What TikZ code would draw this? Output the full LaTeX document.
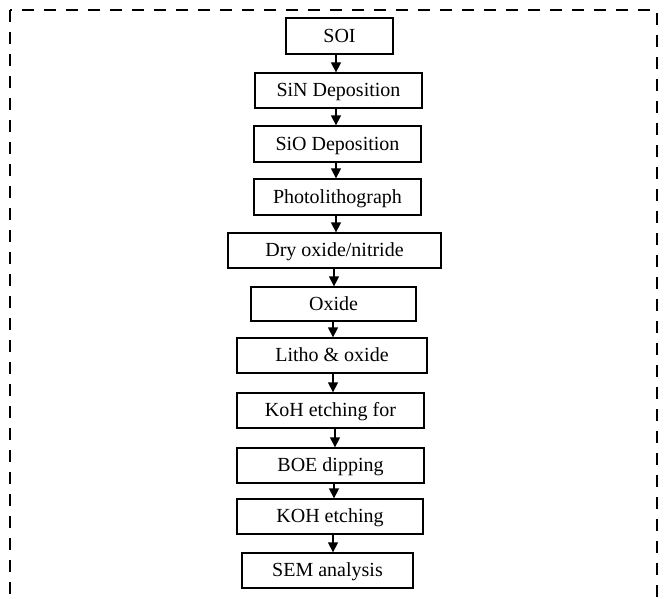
\documentclass[tikz,border=0pt]{standalone}
\usepackage{fontspec}
\setmainfont{Liberation Serif}
\usetikzlibrary{arrows.meta}
\begin{document}
\begin{tikzpicture}[x=1pt,y=-1pt,
  stepbox/.style={draw,line width=1.3pt,inner sep=0pt,
    font=\fontsize{20}{22}\selectfont,text height=12.9pt,text depth=0pt},
  arr/.style={line width=1.3pt,-{Triangle[width=10pt,length=10pt]}},
  frame/.style={line width=2pt,dash pattern=on 12pt off 10pt}]
\useasboundingbox (0,0) rectangle (667,599);
\clip (0,0) rectangle (667,599);
\draw[frame] (10,10) rectangle (657,640);

\node[stepbox,minimum width=107pt,minimum height=36pt] (soi)   at (339.5,36)  {SOI};
\node[stepbox,minimum width=167pt,minimum height=35pt] (sin)   at (338.5,90.5) {SiN Deposition};
\node[stepbox,minimum width=167pt,minimum height=36pt] (sio)   at (337.5,144) {SiO Deposition};
\node[stepbox,minimum width=167pt,minimum height=36pt] (photo) at (337.5,197) {Photolithograph};
\node[stepbox,minimum width=213pt,minimum height=35pt] (dry)   at (334.5,250.5) {Dry oxide/nitride};
\node[stepbox,minimum width=165pt,minimum height=34pt] (oxide) at (333.5,304) {Oxide};
\node[stepbox,minimum width=190pt,minimum height=35pt] (litho) at (332,355.5) {Litho \& oxide};
\node[stepbox,minimum width=187pt,minimum height=35pt] (koh)   at (330.5,410.5) {KoH etching for};
\node[stepbox,minimum width=187pt,minimum height=35pt] (boe)   at (330.5,465.5) {BOE dipping};
\node[stepbox,minimum width=186pt,minimum height=35pt] (kohe)  at (330,516.5) {KOH etching};
\node[stepbox,minimum width=171pt,minimum height=35pt] (sem)   at (327.5,570.5) {SEM analysis};

\coordinate (xa) at (336,0);
\coordinate (xb) at (334,0);
\coordinate (xc) at (333,0);
\coordinate (xd) at (335,0);
\draw[arr] (soi.south -| xa) -- (sin.north -| xa);
\draw[arr] (sin.south -| xa) -- (sio.north -| xa);
\draw[arr] (sio.south -| xa) -- (photo.north -| xa);
\draw[arr] (photo.south -| xa) -- (dry.north -| xa);
\draw[arr] (dry.south -| xb) -- (oxide.north -| xb);
\draw[arr] (oxide.south -| xc) -- (litho.north -| xc);
\draw[arr] (litho.south -| xc) -- (koh.north -| xc);
\draw[arr] (koh.south -| xd) -- (boe.north -| xd);
\draw[arr] (boe.south -| xb) -- (kohe.north -| xb);
\draw[arr] (kohe.south -| xc) -- (sem.north -| xc);
\end{tikzpicture}
\end{document}
